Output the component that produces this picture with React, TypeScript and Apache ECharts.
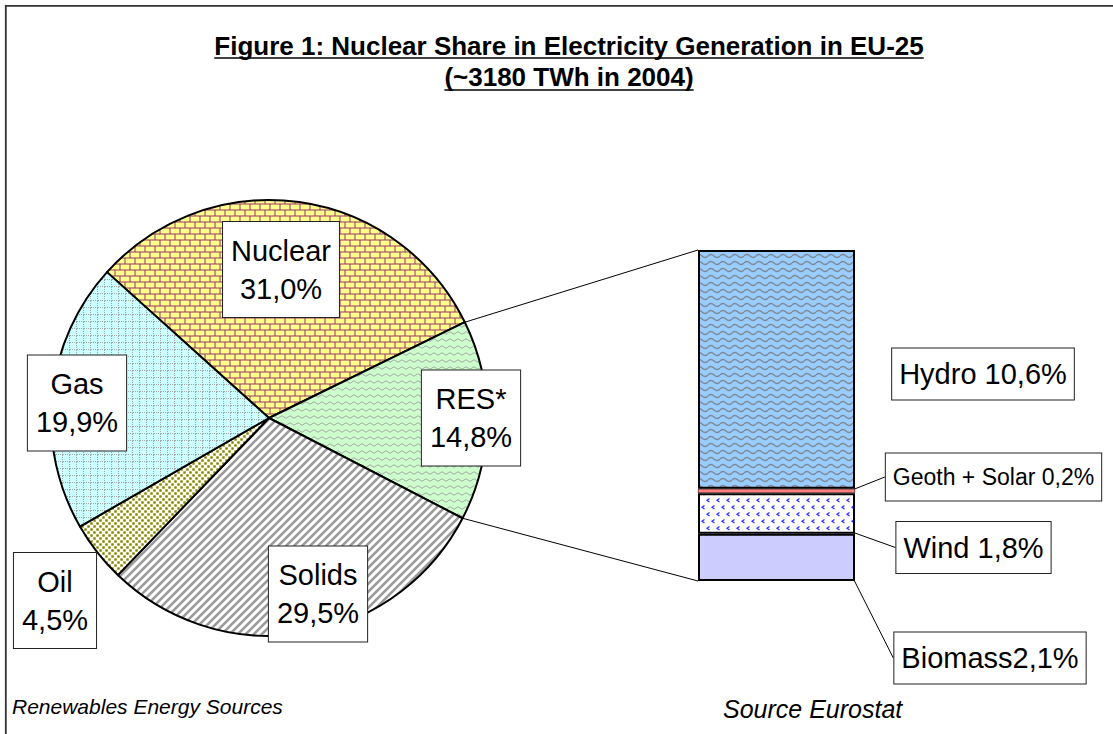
import React, { useEffect, useRef } from "react";
import * as echarts from "echarts";

// ---------- data ----------
const TITLE_LINES = [
  "Figure 1: Nuclear Share in Electricity Generation in EU-25",
  "(~3180 TWh in 2004)",
];
const PIE_NAMES = ["Nuclear", "RES*", "Solids", "Oil", "Gas"];
const PIE_VALUES = [31.0, 14.8, 29.5, 4.5, 19.9];
const RES_NAMES = ["Biomass", "Wind ", "Geoth + Solar ", "Hydro "];
const RES_VALUES = [2.1, 1.8, 0.2, 10.6];
const FOOT_LEFT = "Renewables Energy Sources";
const FOOT_RIGHT = "Source Eurostat";

// ---------- layout / style ----------
const FONT = '"Liberation Sans", Arial, Helvetica, sans-serif';
const W = 1113;
const H = 734;
const PIE_CENTER = [269, 418];
const PIE_R = 218;
const PIE_START = 138;
const BAR_BOX = { left: 698, top: 250, width: 157, height: 331 };
const PIE_LABEL_POS = [
  [281, 269.5],
  [471, 418],
  [318, 594],
  [55, 600.5],
  [77, 403],
];
const BAR_LABEL_POS = [
  [990, 658],
  [973.5, 547.5],
  [993.5, 477],
  [983, 374],
];

function svgPattern(w: number, h: number, body: string) {
  const svg = `<svg xmlns="http://www.w3.org/2000/svg" width="${w}" height="${h}">${body}</svg>`;
  return {
    image: "data:image/svg+xml;charset=utf-8," + encodeURIComponent(svg),
    repeat: "repeat",
    imageWidth: w,
    imageHeight: h,
  };
}

const PAT_NUCLEAR = svgPattern(
  10,
  12,
  `<rect width="10" height="12" fill="#993366"/><rect x="0.5" y="0.5" width="9" height="5" fill="#FFFF8C"/><rect x="-4.5" y="6.5" width="9" height="5" fill="#FFFF8C"/><rect x="5.5" y="6.5" width="9" height="5" fill="#FFFF8C"/>`
);
const PAT_RES = svgPattern(
  8,
  7,
  `<rect width="8" height="7" fill="#CCFFCC"/><path d="M0 4 Q2 1.5 4 4 T8 4" fill="none" stroke="#A8A8A8" stroke-width="1"/>`
);
const PAT_SOLIDS = svgPattern(
  8,
  8,
  `<rect width="8" height="8" fill="#FFFFFF"/><path d="M-2 2L2 -2M0 8L8 0M6 10L10 6" stroke="#9A9A9A" stroke-width="2.6"/>`
);
const PAT_OIL = svgPattern(
  6,
  6,
  `<rect width="6" height="6" fill="#FFFFF4"/><rect x="0.3" y="0.3" width="2.4" height="2.4" fill="#808000"/><rect x="3.3" y="3.3" width="2.4" height="2.4" fill="#808000"/>`
);
const PAT_GAS = svgPattern(
  7,
  7,
  `<rect width="7" height="7" fill="#CCFFFF"/><path d="M0 6.5H7M6.5 0V7" stroke="#A0A8A8" stroke-width="1" stroke-dasharray="1 1"/>`
);
const PAT_HYDRO = svgPattern(
  12,
  7,
  `<rect width="12" height="7" fill="#99CCFF"/><path d="M0 4 Q3 1 6 4 T12 4" fill="none" stroke="#7F8A96" stroke-width="1.4"/>`
);
const PAT_WIND = svgPattern(
  10,
  14,
  `<rect width="10" height="14" fill="#FFFFFF"/><path d="M4.5 1.5L2 3.2L4.5 5M9.5 8.5L7 10.2L9.5 12" fill="none" stroke="#3333FF" stroke-width="1.3"/>`
);

const PIE_FILLS = [PAT_NUCLEAR, PAT_RES, PAT_SOLIDS, PAT_OIL, PAT_GAS];
const BAR_FILLS = ["#CCCCFF", PAT_WIND, "#FF8080", PAT_HYDRO];

const fmt = (v: number) => v.toFixed(1).replace(".", ",") + "%";

function measure(text: string, font: string) {
  const c = document.createElement("canvas").getContext("2d");
  if (!c) return text.length * 12;
  c.font = font;
  return c.measureText(text).width;
}

export default function App() {
  const ref = useRef<HTMLDivElement>(null);

  useEffect(() => {
    if (!ref.current) return;
    const chart = echarts.init(ref.current, undefined, { renderer: "svg" });

    const pieTotal = PIE_VALUES.reduce((a, b) => a + b, 0);
    const resTotal = RES_VALUES.reduce((a, b) => a + b, 0);
    const resStart = PIE_START - (360 * PIE_VALUES[0]) / pieTotal;
    const resEnd = resStart - (360 * PIE_VALUES[1]) / pieTotal;
    const pt = (deg: number) => [
      PIE_CENTER[0] + PIE_R * Math.cos((deg * Math.PI) / 180),
      PIE_CENTER[1] - PIE_R * Math.sin((deg * Math.PI) / 180),
    ];
    const p1 = pt(resStart);
    const p2 = pt(resEnd);

    const titleFont = `bold 26px ${FONT}`;
    const titleX = 569;
    const titleY = [46, 77];
    const underlineY = [58, 90];
    const titleGraphics: any[] = [];
    TITLE_LINES.forEach((t, i) => {
      const w = measure(t, titleFont);
      titleGraphics.push({
        type: "text",
        x: titleX,
        y: titleY[i],
        style: {
          text: t,
          font: titleFont,
          fill: "#000",
          align: "center",
          verticalAlign: "middle",
        },
      });
      titleGraphics.push({
        type: "line",
        shape: {
          x1: titleX - w / 2,
          y1: underlineY[i],
          x2: titleX + w / 2,
          y2: underlineY[i],
        },
        style: { stroke: "#000", lineWidth: 1.5 },
      });
    });

    const boxLabel = {
      color: "#000",
      fontFamily: FONT,
      backgroundColor: "#fff",
      borderColor: "#222",
      borderWidth: 1,
    };

    const option: any = {
      animation: false,
      backgroundColor: "#fff",
      grid: {
        left: BAR_BOX.left,
        top: BAR_BOX.top,
        width: BAR_BOX.width,
        height: BAR_BOX.height,
        containLabel: false,
      },
      xAxis: { type: "category", data: [""], show: false },
      yAxis: { type: "value", min: 0, max: resTotal, show: false },
      series: [
        {
          type: "pie",
          center: PIE_CENTER,
          radius: PIE_R,
          startAngle: PIE_START,
          clockwise: true,
          avoidLabelOverlap: false,
          silent: true,
          data: PIE_NAMES.map((n, i) => ({
            name: n,
            value: PIE_VALUES[i],
            itemStyle: { color: PIE_FILLS[i] },
          })),
          itemStyle: { borderColor: "#000", borderWidth: 2 },
          label: {
            show: true,
            position: "inside",
            formatter: (p: any) => `${p.name}\n${fmt(p.value)}`,
            fontSize: 29,
            lineHeight: 38,
            padding: [10, 8, 9, 8],
            align: "center",
            ...boxLabel,
          },
          labelLine: { show: false },
          labelLayout: (p: any) => ({
            x: PIE_LABEL_POS[p.dataIndex][0],
            y: PIE_LABEL_POS[p.dataIndex][1],
            align: "center",
            verticalAlign: "middle",
          }),
        },
        ...RES_NAMES.map((n, i) => ({
          type: "bar",
          name: n,
          stack: "res",
          barWidth: "100%",
          silent: true,
          data: [RES_VALUES[i]],
          itemStyle: {
            color: BAR_FILLS[i],
            borderColor: "#000",
            borderWidth: i === 2 ? 0.6 : 2,
          },
          label: {
            show: true,
            position: "right",
            formatter: (p: any) => n + fmt(p.value),
            fontSize: i === 2 ? 23 : 29,
            lineHeight: i === 2 ? 34 : 40,
            padding: i === 2 ? [7, 7, 6, 7] : [6, 7, 5, 7],
            ...boxLabel,
          },
          labelLine: {
            show: i !== 3,
            lineStyle: { color: "#000", width: 1 },
          },
          labelLayout: {
            x: BAR_LABEL_POS[i][0],
            y: BAR_LABEL_POS[i][1],
            align: "center",
            verticalAlign: "middle",
          },
        })),
      ],
      graphic: [
        {
          type: "rect",
          shape: { x: 5.8, y: 5.8, width: 1200, height: 800 },
          style: { fill: "none", stroke: "#333", lineWidth: 1.8 },
          silent: true,
        },
        ...titleGraphics,
        {
          type: "line",
          shape: { x1: p1[0], y1: p1[1], x2: BAR_BOX.left, y2: BAR_BOX.top },
          style: { stroke: "#000", lineWidth: 1 },
        },
        {
          type: "line",
          shape: {
            x1: p2[0],
            y1: p2[1],
            x2: BAR_BOX.left,
            y2: BAR_BOX.top + BAR_BOX.height,
          },
          style: { stroke: "#000", lineWidth: 1 },
        },
        {
          type: "text",
          x: 12,
          y: 706,
          style: {
            text: FOOT_LEFT,
            font: `italic 21px ${FONT}`,
            fill: "#000",
            align: "left",
            verticalAlign: "middle",
          },
        },
        {
          type: "text",
          x: 723,
          y: 709,
          style: {
            text: FOOT_RIGHT,
            font: `italic 25px ${FONT}`,
            fill: "#000",
            align: "left",
            verticalAlign: "middle",
          },
        },
      ],
    };

    chart.setOption(option);
    return () => chart.dispose();
  }, []);

  return (
    <div
      ref={ref}
      style={{
        position: "fixed",
        left: 0,
        top: 0,
        width: W,
        height: H,
        background: "#fff",
      }}
    />
  );
}
